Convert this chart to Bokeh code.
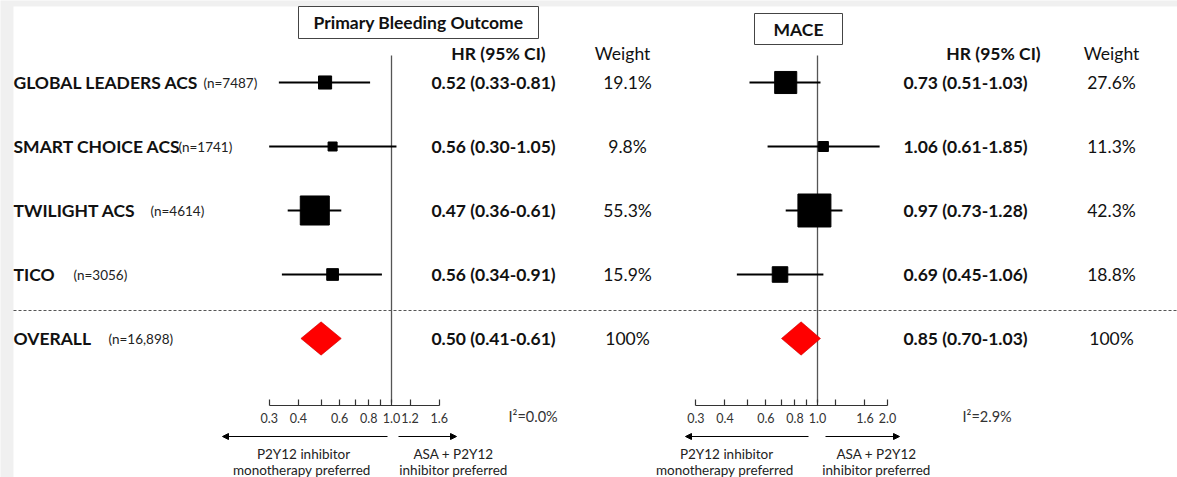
import math
from bokeh.plotting import figure
from bokeh.models import (Range1d, LogScale, LogAxis, FixedTicker, Arrow,
                          NormalHead)
from bokeh.core.properties import value
from bokeh.embed import file_html
from bokeh.resources import INLINE

# ---------------- data ----------------
studies = ["GLOBAL LEADERS ACS", "SMART CHOICE ACS", "TWILIGHT ACS", "TICO"]
study_n = ["(n=7487)", "(n=1741)", "(n=4614)", "(n=3056)"]
overall_label = "OVERALL"
overall_n = "(n=16,898)"

bleed_hr = [0.52, 0.56, 0.47, 0.56]
bleed_lo = [0.33, 0.30, 0.36, 0.34]
bleed_hi = [0.81, 1.05, 0.61, 0.91]
bleed_w = [19.1, 9.8, 55.3, 15.9]
bleed_overall = [0.50, 0.41, 0.61]
bleed_i2 = "I\u00b2=0.0%"

mace_hr = [0.73, 1.06, 0.97, 0.69]
mace_lo = [0.51, 0.61, 0.73, 0.45]
mace_hi = [1.03, 1.85, 1.28, 1.06]
mace_w = [27.6, 11.3, 42.3, 18.8]
mace_overall = [0.85, 0.70, 1.03]
mace_i2 = "I\u00b2=2.9%"

bleed_ticks = [0.3, 0.4, 0.5, 0.6, 0.7, 0.8, 0.9, 1.0, 1.2, 1.6]
bleed_tick_labels = ["0.3", "0.4", "", "0.6", "", "0.8", "", "1.0", "1.2", "1.6"]
mace_ticks = [0.3, 0.4, 0.5, 0.6, 0.7, 0.8, 0.9, 1.0, 1.2, 1.6, 2.0]
mace_tick_labels = ["0.3", "0.4", "", "0.6", "", "0.8", "", "1.0", "", "1.6", "2.0"]

panel_titles = ["Primary Bleeding Outcome", "MACE"]
hr_header = "HR (95% CI)"
weight_header = "Weight"
left_dir = ["P2Y12 inhibitor", "monotherapy  preferred"]
right_dir = ["ASA + P2Y12", "inhibitor preferred"]

# ---------------- layout ----------------
W, H = 1177, 477
X0, X1 = 0, W              # page px covered by the frame
Y0, Y1 = 0, H
ROW0, ROWH = 82, 64        # row 0 centre (page px) and spacing


def r(py):
    return (py - ROW0) / ROWH


rows = [0, 1, 2, 3]
overall_row = 4

FONT = value("Lato")
TXT = "#111111"
BIG = "17.5px"

p = figure(width=W, height=H, x_range=Range1d(X0, X1),
           y_range=Range1d(r(Y1), r(Y0)),
           output_backend="svg", toolbar_location=None, min_border=0,
           x_axis_location=None, y_axis_location=None,
           outline_line_color=None, background_fill_color="#f0f0f0",
           border_fill_color="#f0f0f0")
p.xgrid.visible = False
p.ygrid.visible = False

# white sheet
p.quad(left=[13], right=[X1], top=[r(6)], bottom=[r(Y1)],
       fill_color="white", line_color=None)

# log scales for each panel: (page px of HR=1, px per ln unit)
panels = {"bleed": (391.0, 101.6), "mace": (817.0, 101.0)}
p.extra_x_ranges = {k: Range1d(math.exp((X0 - c) / s), math.exp((X1 - c) / s))
                    for k, (c, s) in panels.items()}
p.extra_x_scales = {k: LogScale() for k in panels}

# separator
p.segment(x0=[13], x1=[X1], y0=[r(310)], y1=[r(310)], line_color="#555555",
          line_dash="3 2", line_width=1)


def draw_panel(name, hr, lo, hi, w, ov, size_a, size_b, ticks, tlabels,
               title, title_box, hr_x, w_x, hdr_x, whdr_x, i2, i2_x,
               larrow, rarrow, ltext_x, rtext_x):
    # reference line at 1.0
    p.segment(x0=[1.0], x1=[1.0], y0=[r(55)], y1=[r(402)], x_range_name=name,
              line_color="#555555", line_width=1.3)
    # CI lines
    p.segment(x0=lo, x1=hi, y0=rows, y1=rows, x_range_name=name,
              line_color="black", line_width=2)
    sizes = [size_a + size_b * v for v in w]
    p.scatter(x=hr, y=rows, size=sizes, marker="square", x_range_name=name,
              fill_color="black", line_color="black")
    # overall diamond
    h = 0.26
    p.patch(x=[ov[1], ov[0], ov[2], ov[0]],
            y=[overall_row, overall_row - h, overall_row, overall_row + h],
            x_range_name=name, fill_color="#ff0000", line_color="#cc0000",
            line_width=0.6)
    # axis
    ax = LogAxis(x_range_name=name, ticker=FixedTicker(ticks=ticks),
                 bounds=(ticks[0], ticks[-1]), fixed_location=r(405),
                 major_tick_in=6, major_tick_out=0, minor_tick_in=0,
                 minor_tick_out=0,
                 major_label_overrides={t: l for t, l in zip(ticks, tlabels)},
                 major_label_text_font="Lato",
                 major_label_text_font_size="12.5px",
                 major_label_text_color="#333333", major_label_standoff=7,
                 axis_line_color="#333333", major_tick_line_color="#333333",
                 axis_line_width=1.2, major_tick_line_width=1.2)
    p.add_layout(ax, "below")
    # title box
    bl, br, bt, bb = title_box
    p.quad(left=[bl], right=[br], top=[r(bt)], bottom=[r(bb)],
           fill_color="white", line_color="#444444", line_width=1)
    p.text(x=[(bl + br) / 2], y=[r((bt + bb) / 2)], text=[title],
           text_font=FONT, text_font_size=BIG, text_font_style="bold",
           text_align="center", text_baseline="middle", text_color=TXT)
    # headers
    p.text(x=[hdr_x], y=[r(53)], text=[hr_header], text_font=FONT,
           text_font_size=BIG, text_font_style="bold", text_align="center",
           text_baseline="middle", text_color=TXT)
    p.text(x=[whdr_x], y=[r(53)], text=[weight_header], text_font=FONT,
           text_font_size=BIG, text_align="center",
           text_baseline="middle", text_color=TXT)
    # values
    hr_txt = [f"{a:.2f} ({b:.2f}-{c:.2f})" for a, b, c in zip(hr, lo, hi)]
    hr_txt.append(f"{ov[0]:.2f} ({ov[1]:.2f}-{ov[2]:.2f})")
    w_txt = [f"{v:.1f}%" for v in w] + ["100%"]
    yy = rows + [overall_row]
    p.text(x=[hr_x] * 5, y=yy, text=hr_txt, text_font=FONT,
           text_font_size=BIG, text_font_style="bold", text_align="center",
           text_baseline="middle", text_color=TXT)
    p.text(x=[w_x] * 5, y=yy, text=w_txt, text_font=FONT,
           text_font_size=BIG, text_align="center",
           text_baseline="middle", text_color=TXT)
    # I2
    p.text(x=[i2_x], y=[r(416)], text=[i2], text_font=FONT,
           text_font_size="14.5px", text_align="left", text_baseline="middle",
           text_color="#333333")
    # arrows
    for (xs, xe) in (larrow, rarrow):
        p.add_layout(Arrow(end=NormalHead(size=6, fill_color="black",
                                          line_color="black"),
                           x_start=xs, y_start=r(436), x_end=xe, y_end=r(436),
                           line_color="black", line_width=1.2))
    p.text(x=[ltext_x] * 2, y=[r(453), r(469)], text=left_dir, text_font=FONT,
           text_font_size="13.5px", text_align="center",
           text_baseline="middle", text_color="#222222")
    p.text(x=[rtext_x] * 2, y=[r(453), r(469)], text=right_dir, text_font=FONT,
           text_font_size="13.5px", text_align="center",
           text_baseline="middle", text_color="#222222")


draw_panel("bleed", bleed_hr, bleed_lo, bleed_hi, bleed_w, bleed_overall,
           4.7, 0.44, bleed_ticks, bleed_tick_labels, panel_titles[0],
           (298, 538, 6, 38), 493, 627, 498, 622, bleed_i2, 508,
           (387, 222), (398, 456), 303, 453)
draw_panel("mace", mace_hr, mace_lo, mace_hi, mace_w, mace_overall,
           1.6, 0.742, mace_ticks, mace_tick_labels, panel_titles[1],
           (754, 842, 13, 44), 965, 1111, 993, 1111, mace_i2, 962,
           (808, 685), (825, 899), 726, 876)

# study labels
all_rows = rows + [overall_row]
p.text(x=[13] * 5, y=all_rows, text=studies + [overall_label], text_font=FONT,
       text_font_size=BIG, text_font_style="bold", text_align="left",
       text_baseline="middle", text_color=TXT)
n_x = [203, 178, 150, 73, 108]
p.text(x=n_x, y=all_rows, text=study_n + [overall_n], text_font=FONT,
       text_font_size="13.5px", text_align="left", text_baseline="middle",
       text_color="#222222")

open("out.html", "w").write(file_html(p, INLINE))
